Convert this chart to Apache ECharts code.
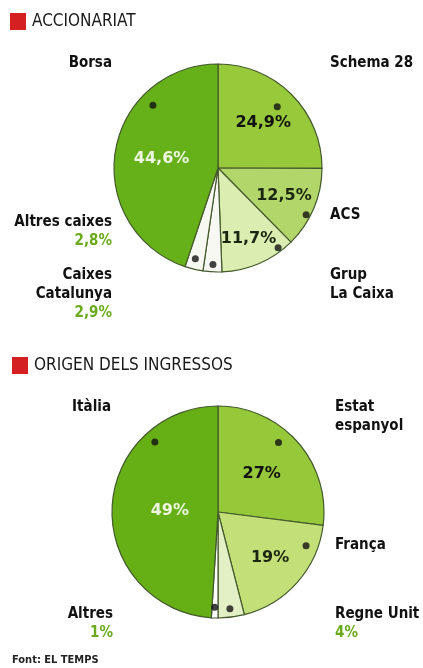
<!DOCTYPE html>
<html>
<head>
<meta charset="utf-8">
<script src="https://cdn.jsdelivr.net/npm/echarts@6/dist/echarts.min.js"></script>
<style>
  html, body { margin: 0; padding: 0; background: #fff; }
  #chart { width: 423px; height: 668px; }
</style>
</head>
<body>
<div id="chart"></div>
<script>
// Accionariat (shareholders), clockwise from 12 o'clock
const shareNames = ['Schema 28', 'ACS', 'Grup\nLa Caixa', 'Caixes\nCatalunya', 'Altres caixes', 'Borsa'];
const shareValues = [24.9, 12.5, 11.7, 2.9, 2.8, 44.6];
const shareDotAngles = [44, 118, 143, 183, 194, 314];
const shareDotRadius = [0.82, 0.96, 0.96, 0.93, 0.9, 0.87];

// Origen dels ingressos (income origin), clockwise from 12 o'clock
const incomeNames = ['Estat\nespanyol', 'França', 'Regne Unit', 'Altres', 'Itàlia'];
const incomeValues = [27, 19, 4, 1, 49];
const incomeDotAngles = [41, 111, 173, 182, 318];
const incomeDotRadius = [0.87, 0.89, 0.92, 0.9, 0.89];

const shareColors = ['#97c93a', '#b3d66a', '#dcedb2', '#f7f8f2', '#f7f8f2', '#66b01a'];
const shareTextColors = ['#111', '#1a2610', '#1a2610', '#111', '#111', '#eef6e2'];
const shareReach = [0.58, 0.65, 0.7, 0.5, 0.5, 0.52];

const incomeColors = ['#96c93a', '#c2df78', '#e3f0c6', '#ffffff', '#66b016'];
const incomeTextColors = ['#111', '#1a2610', '#111', '#111', '#eef6e2'];
const incomeReach = [0.52, 0.62, 0.5, 0.5, 0.43];

const nameFont = '"DejaVu Sans Condensed", "Liberation Sans Narrow", "Roboto", sans-serif';
const greenText = '#6aaa1c';

const TOP = { center: [218, 168], r: 104 };
const BOT = { center: [218, 512], r: 106 };

function fmtPct(v) {
  return (Number.isInteger(v) ? String(v) : v.toFixed(1).replace('.', ',')) + '%';
}

function pieData(names, values, colors, textColors) {
  return names.map((n, i) => ({
    name: n,
    value: values[i],
    itemStyle: { color: colors[i] },
    label: { show: values[i] > 5, color: textColors[i] }
  }));
}

function reachLayout(geo, reach) {
  return function (params) {
    const r = params.labelRect;
    const lx = r.x + r.width / 2;
    const ly = r.y + r.height / 2;
    const k = reach[params.dataIndex] / 0.5 - 1;
    return { dx: (lx - geo.center[0]) * k, dy: (ly - geo.center[1]) * k };
  };
}

// name label spots (layout only)
const shareSpots = [
  { x: 330, y: 54, align: 'left' },
  { x: 330, y: 206, align: 'left' },
  { x: 330, y: 266, align: 'left' },
  { x: 112, y: 266, align: 'right' },
  { x: 112, y: 213, align: 'right' },
  { x: 112, y: 54, align: 'right' }
];
const incomeSpots = [
  { x: 335, y: 398, align: 'left' },
  { x: 335, y: 536, align: 'left' },
  { x: 335, y: 605, align: 'left' },
  { x: 113, y: 605, align: 'right' },
  { x: 111, y: 398, align: 'right' }
];

function nameGraphics(names, values, spots) {
  return names.map((n, i) => {
    const lines = n.split('\n').map(s => '{n|' + s + '}');
    if (values[i] < 5) lines.push('{p|' + fmtPct(values[i]) + '}');
    return {
      type: 'text',
      x: spots[i].x,
      y: spots[i].y,
      style: {
        text: lines.join('\n'),
        align: spots[i].align,
        verticalAlign: 'top',
        rich: {
          n: { fontFamily: nameFont, fontWeight: 'bold', fontSize: 15, lineHeight: 19, fill: '#111', align: spots[i].align },
          p: { fontFamily: nameFont, fontWeight: 'bold', fontSize: 15, lineHeight: 19, fill: greenText, align: spots[i].align }
        }
      }
    };
  });
}

const chart = echarts.init(document.getElementById('chart'));

const titleRich = {
  sq: { width: 16, height: 17, backgroundColor: '#d42020' },
  t: {
    fontFamily: '"Liberation Sans Narrow", "DejaVu Sans Condensed", sans-serif',
    fontSize: 17, fontWeight: 'normal', color: '#1a1a1a', padding: [0, 0, 0, 6]
  }
};

const pieBase = {
  type: 'pie',
  startAngle: 90,
  clockwise: true,
  silent: true,
  avoidLabelOverlap: false,
  labelLine: { show: false },
  itemStyle: { borderColor: '#44592c', borderWidth: 1.2 },
  label: {
    position: 'inside',
    fontFamily: '"DejaVu Sans", sans-serif',
    fontWeight: 'bold',
    fontSize: 16,
    formatter: p => fmtPct(p.value)
  },
  emphasis: { disabled: true }
};

chart.setOption({
  animation: false,
  backgroundColor: '#ffffff',
  title: [
    { text: '{sq|}{t|ACCIONARIAT}', left: 10, top: 13, padding: 0, textStyle: { fontWeight: 'normal', rich: titleRich } },
    { text: '{sq|}{t|ORIGEN DELS INGRESSOS}', left: 12, top: 357, padding: 0, textStyle: { fontWeight: 'normal', rich: titleRich } },
    {
      text: 'Font: EL TEMPS', left: 12, top: 655, padding: 0,
      textStyle: { fontFamily: nameFont, fontSize: 11, fontWeight: 'bold', color: '#222' }
    }
  ],
  polar: [
    { center: TOP.center, radius: TOP.r },
    { center: BOT.center, radius: BOT.r }
  ],
  angleAxis: [
    { polarIndex: 0, type: 'value', min: 0, max: 360, startAngle: 90, clockwise: true, show: false },
    { polarIndex: 1, type: 'value', min: 0, max: 360, startAngle: 90, clockwise: true, show: false }
  ],
  radiusAxis: [
    { polarIndex: 0, type: 'value', min: 0, max: 1, show: false },
    { polarIndex: 1, type: 'value', min: 0, max: 1, show: false }
  ],
  series: [
    Object.assign({}, pieBase, {
      center: TOP.center,
      radius: TOP.r,
      data: pieData(shareNames, shareValues, shareColors, shareTextColors),
      labelLayout: reachLayout(TOP, shareReach)
    }),
    Object.assign({}, pieBase, {
      center: BOT.center,
      radius: BOT.r,
      data: pieData(incomeNames, incomeValues, incomeColors, incomeTextColors),
      labelLayout: reachLayout(BOT, incomeReach)
    }),
    {
      type: 'scatter', coordinateSystem: 'polar', polarIndex: 0, z: 5, silent: true,
      symbolSize: 7, itemStyle: { color: '#111' },
      data: shareDotAngles.map((a, i) => [shareDotRadius[i], a])
    },
    {
      type: 'scatter', coordinateSystem: 'polar', polarIndex: 1, z: 5, silent: true,
      symbolSize: 7, itemStyle: { color: '#111' },
      data: incomeDotAngles.map((a, i) => [incomeDotRadius[i], a])
    }
  ],
  graphic: nameGraphics(shareNames, shareValues, shareSpots)
    .concat(nameGraphics(incomeNames, incomeValues, incomeSpots))
});
</script>
</body>
</html>
